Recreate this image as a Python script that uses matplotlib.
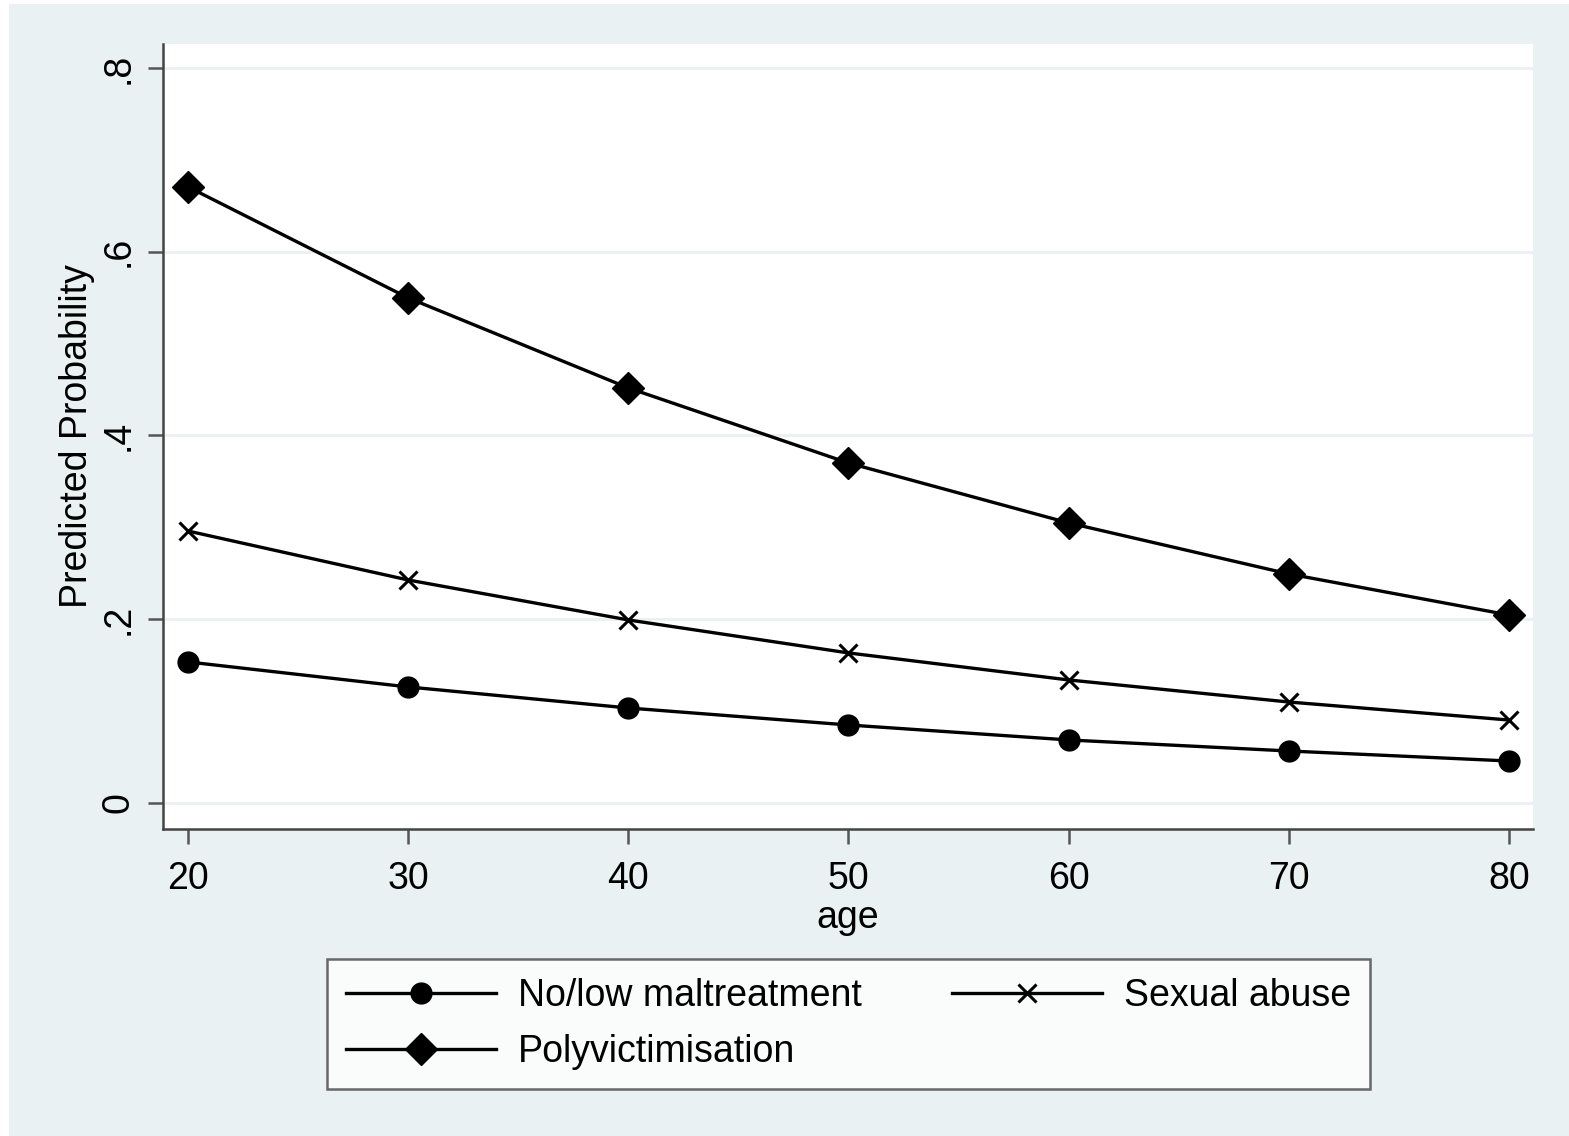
import matplotlib.pyplot as plt
from matplotlib.patches import Rectangle
from matplotlib.lines import Line2D

plt.rcParams['font.family'] = ['Liberation Sans', 'DejaVu Sans']

# predicted probabilities
age = [20, 30, 40, 50, 60, 70, 80]
no_low = [0.1535, 0.1263, 0.1034, 0.0849, 0.0686, 0.0566, 0.0457]
sexual = [0.296, 0.2427, 0.1992, 0.1633, 0.1339, 0.1099, 0.0903]
poly = [0.6705, 0.5497, 0.4517, 0.370, 0.3048, 0.2493, 0.2046]
y_ticks = [0, 0.2, 0.4, 0.6, 0.8]
y_labels = ['0', '.2', '.4', '.6', '.8']

W, H = 1569, 1136
bg = '#eaf1f3'
fig = plt.figure(figsize=(W / 100, H / 100), dpi=100, facecolor='white')
fig.patches.append(Rectangle((9 / W, 0), 1 - 9 / W, 1 - 4 / H, transform=fig.transFigure,
                             facecolor=bg, edgecolor='none', zorder=-10))

ax = fig.add_axes([163 / W, 1 - 829 / H, (1533 - 163) / W, (829 - 44) / H])
ax.set_facecolor('white')

lw = 2.4
ax.plot(age, no_low, color='black', lw=lw, marker='o', markersize=15, label='No/low maltreatment')
ax.plot(age, sexual, color='black', lw=lw, marker='x', markersize=13, markeredgewidth=2.2,
        label='Sexual abuse')
ax.plot(age, poly, color='black', lw=lw, marker='D', markersize=16, label='Polyvictimisation')

ax.set_xlim(18.865, 81.09)
ax.set_ylim(-0.0283, 0.826)
ax.set_xticks(age)
ax.set_yticks(y_ticks)
ax.set_yticklabels(y_labels, rotation=90, va='center')
ax.grid(axis='y', color='#eaf1f3', lw=2)
ax.set_axisbelow(True)

for s in ['top', 'right']:
    ax.spines[s].set_visible(False)
for s in ['left', 'bottom']:
    ax.spines[s].set_color('#444444')
    ax.spines[s].set_linewidth(1.8)
ax.tick_params(length=11, width=1.8, color='#555555', labelsize=27)
ax.tick_params(axis='x', pad=12)
ax.tick_params(axis='y', pad=8)

ax.set_xlabel('age', fontsize=27, labelpad=2)
ax.set_ylabel('Predicted Probability', fontsize=27, labelpad=4)

handles = [
    Line2D([], [], color='black', lw=lw, marker='o', markersize=15),
    Line2D([], [], color='black', lw=lw, marker='D', markersize=16),
    Line2D([], [], color='black', lw=lw, marker='x', markersize=13, markeredgewidth=2.2),
]
labels = ['No/low maltreatment', 'Polyvictimisation', 'Sexual abuse']
leg = fig.legend(handles, labels, ncol=2, loc='center',
                 bbox_to_anchor=(848.5 / W, 1 - 1024 / H), fontsize=27,
                 frameon=True, fancybox=False, edgecolor='#444444',
                 handlelength=4.0, handletextpad=0.6, columnspacing=2.4,
                 borderpad=0.5, labelspacing=0.55)
leg.get_frame().set_linewidth(1.8)

fig.savefig('out.png', dpi=100, facecolor=fig.get_facecolor())
